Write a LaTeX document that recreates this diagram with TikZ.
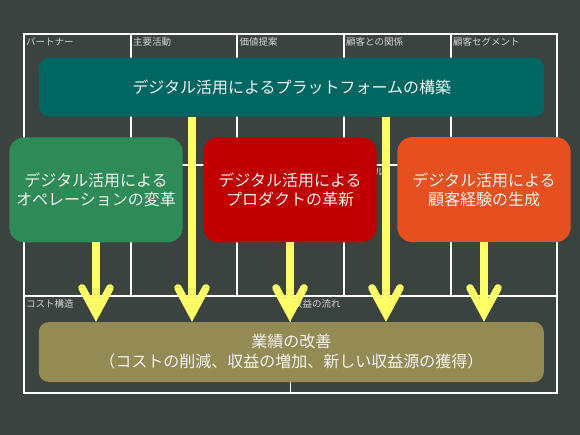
\documentclass[tikz,border=0pt]{standalone}
\usepackage{fontspec}
\setmainfont{Noto Sans CJK JP}
\usetikzlibrary{arrows.meta}
\definecolor{bg}{HTML}{3B4341}
\definecolor{teal2}{HTML}{006661}
\definecolor{green2}{HTML}{2E8B57}
\definecolor{red2}{HTML}{C00000}
\definecolor{orange2}{HTML}{E65020}
\definecolor{olive2}{HTML}{948A54}
\definecolor{yel}{HTML}{FFFF66}
\definecolor{labc}{HTML}{D4D4D4}
\definecolor{txt}{HTML}{F4F4F4}
\tikzset{
  gridline/.style={draw=white, line width=1.2pt},
  lab/.style={anchor=west, inner sep=0pt, text=labc, font=\fontsize{9.5}{10}\selectfont},
  box/.style={rounded corners=15pt, minimum width=173.4pt, minimum height=105pt,
    inner sep=0pt, text=txt, align=center, font=\fontsize{16}{19}\selectfont},
  widebox/.style={rounded corners=10pt, minimum width=505pt, minimum height=59pt,
    inner sep=0pt, text=txt, align=center, font=\fontsize{16}{20}\selectfont},
  yarr/.style={draw=yel, line width=7.5pt,
    -{Straight Barb[length=26pt, width=28pt, line cap=round, line join=miter]}}
}
\begin{document}
\begin{tikzpicture}[x=1pt,y=-1pt]
\fill[bg] (0,0) rectangle (580,435);
\useasboundingbox (0,0) rectangle (580,435);
% canvas grid
\draw[gridline] (24,34) rectangle (557,393);
\draw[gridline] (24,296) -- (557,296);
\foreach \x in {131,237,344,451} \draw[gridline] (\x,34) -- (\x,296);
\draw[gridline] (131,165) -- (237,165);
\draw[gridline] (344,165) -- (451,165);
\draw[gridline] (290.5,296) -- (290.5,393);
% canvas labels
\node[lab] (l1) at (26,42) {パートナー};
\node[lab] (l2) at (133,42) {主要活動};
\node[lab] (l3) at (239.5,42) {価値提案};
\node[lab] (l4) at (346,42) {顧客との関係};
\node[lab] (l5) at (453,42) {顧客セグメント};
\node[lab] (l6) at (346,172) {チャネル};
\node[lab] (l7) at (26,304) {コスト構造};
\node[lab] (l8) at (293,304) {収益の流れ};
% boxes
\node[widebox, fill=teal2] (top) at (291.7,87.2) {デジタル活用によるプラットフォームの構築};
\node[box, fill=green2] (g) at (96,189.8) {デジタル活用による\\オペレーションの変革};
\node[box, fill=red2] (r) at (290,189.8) {デジタル活用による\\プロダクトの革新};
\node[box, fill=orange2] (o) at (484,189.6) {デジタル活用による\\顧客経験の生成};
\node[widebox, fill=olive2, minimum height=60pt] (bot) at (291.3,352) {業績の改善\\（コストの削減、収益の増加、新しい収益源の獲得）};
% arrows
\coordinate (x2) at (192,0);
\coordinate (x4) at (386,0);
\draw[yarr] (g.south) -- (g.south |- bot.north);
\draw[yarr] (top.south -| x2) -- (bot.north -| x2);
\draw[yarr] (r.south) -- (r.south |- bot.north);
\draw[yarr] (top.south -| x4) -- (bot.north -| x4);
\draw[yarr] (o.south) -- (o.south |- bot.north);
\end{tikzpicture}
\end{document}
